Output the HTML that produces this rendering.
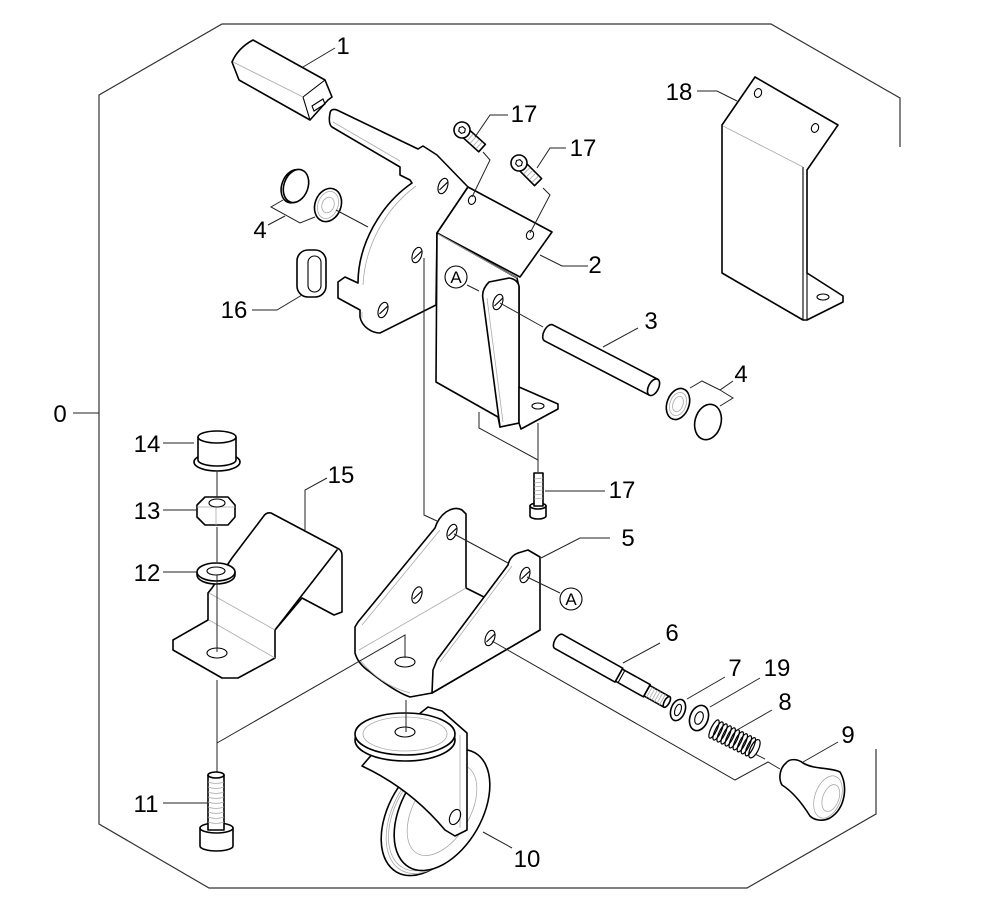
<!DOCTYPE html>
<html><head><meta charset="utf-8"><style>
html,body{margin:0;padding:0;background:#fff;}
svg{display:block}
.o{fill:#fff;stroke:#000;stroke-width:1.6;stroke-linejoin:round;stroke-linecap:round}
.n{fill:none;stroke:#000;stroke-width:1.6;stroke-linejoin:round;stroke-linecap:round}
.t{fill:none;stroke:#000;stroke-width:1.1}
.l{fill:none;stroke:#222;stroke-width:1}
.g{fill:none;stroke:#aaa;stroke-width:0.8}
text{font-family:"Liberation Sans",sans-serif;font-size:24px;fill:#000;text-anchor:middle}
.a{font-size:17px}
</style></head><body>
<svg width="998" height="907" viewBox="0 0 998 907" xmlns="http://www.w3.org/2000/svg">
<!-- border -->
<polyline points="900,147 900,98 771,24 222,24 99,95 99,824 209,888 747,888 876,814 876,749" fill="none" stroke="#333" stroke-width="1.2"/>
<line x1="73" y1="413" x2="99" y2="413" class="l"/>

<!-- Part 1 grip -->
<path class="o" d="M253,40 Q238,48 232,62 L239,80 L310,120 L328,100 L332,97 L325,80 Z"/>
<path class="t" d="M303,97 L325,80 M303,97 L310,120"/>
<line class="g" x1="233" y1="62" x2="303" y2="97"/>
<path class="t" d="M312,106 L323,99 L325,104 L314,111 Z"/>
<line class="l" x1="335" y1="48" x2="303" y2="67"/>

<!-- Part 2: lever + quarter plate -->
<path class="o" d="M330,113 Q331,108 337,110 L418,149 L423,146 L437,155 L468,187 L437,233 L436,305 L430,308 L380,333 C372,333 362,327 360,317 L360,310 L338,298 L338,282 L345,277 L358,283 C358,245 380,205 412,183 L410,180 L400,175 L400,167 L332,127 Q328,124 330,113 Z"/>
<path class="g" d="M333,122 L400,161 M416,186 C386,208 365,245 363,285 M362,312 L362,318"/>
<!-- top flange -->
<polygon class="o" points="468,187 552,232 520,277 437,233"/>
<!-- vertical plate -->
<polygon class="o" points="437,233 517,278 519,287 519,423 500,427 498,417 436,382"/>
<line class="g" x1="438" y1="234" x2="517" y2="278"/>
<!-- gusset -->
<path class="o" d="M500,427 L483,299 Q481,290 489,282 L509,278 Q517,279 519,286 L519,423 Z"/>
<line class="g" x1="487" y1="298" x2="503" y2="422"/>
<!-- bottom flange -->
<path class="o" d="M519,387 L558,404 L558,409 L521,429 L519,423 Z"/>
<ellipse class="t" cx="538" cy="406" rx="6" ry="3"/>
<!-- holes part 2 -->
<g class="t">
<g transform="translate(443,186) rotate(20)"><ellipse rx="4.5" ry="8"/><line x1="-2" y1="5" x2="3" y2="-5"/></g>
<g transform="translate(417,255) rotate(20)"><ellipse rx="4.5" ry="8"/><line x1="-2" y1="5" x2="3" y2="-5"/></g>
<g transform="translate(383,310) rotate(20)"><ellipse rx="4.5" ry="8"/><line x1="-2" y1="5" x2="3" y2="-5"/></g>
<g transform="translate(472,200) rotate(20)"><ellipse rx="3.5" ry="4.5"/></g>
<g transform="translate(530,235) rotate(20)"><ellipse rx="3.5" ry="4.5"/></g>
<g transform="translate(498,302) rotate(20)"><ellipse rx="4.5" ry="8"/><line x1="-2" y1="5" x2="3" y2="-5"/></g>
</g>
<path class="l" d="M588,266 L562,266 L540,255"/>

<!-- Part 4 upper -->
<g transform="translate(296,186) rotate(20)"><ellipse class="o" cx="-2" cy="1" rx="12" ry="17"/><ellipse class="o" rx="12" ry="17"/></g>
<g transform="translate(328,205) rotate(20)"><ellipse class="o" rx="13" ry="17"/><ellipse class="g" rx="6" ry="8"/><ellipse class="g" rx="10" ry="14"/></g>
<path class="l" d="M283,200 L271,207 L300,223 L315,217 M268,225 L285,216"/>
<line class="l" x1="336" y1="210" x2="368" y2="227"/>

<!-- Part 16 -->
<rect class="o" x="297" y="250" width="29" height="47" rx="11"/>
<rect class="t" x="308" y="256" width="13" height="36" rx="6.5"/>
<path class="l" d="M252,310 L277,310 L302,295"/>

<!-- Screws 17 top -->
<g transform="translate(462,130) rotate(42)"><rect class="o" x="2" y="-5" width="25" height="10"/><g class="g"><line x1="11" y1="-4.5" x2="11" y2="4.5"/><line x1="15" y1="-4.5" x2="15" y2="4.5"/><line x1="19" y1="-4.5" x2="19" y2="4.5"/><line x1="23" y1="-4.5" x2="23" y2="4.5"/></g><circle class="o" r="8"/><polygon class="t" points="3.5,0 1.75,3 -1.75,3 -3.5,0 -1.75,-3 1.75,-3"/></g>
<g transform="translate(519,163) rotate(45)"><rect class="o" x="2" y="-5" width="25" height="10"/><g class="g"><line x1="11" y1="-4.5" x2="11" y2="4.5"/><line x1="15" y1="-4.5" x2="15" y2="4.5"/><line x1="19" y1="-4.5" x2="19" y2="4.5"/><line x1="23" y1="-4.5" x2="23" y2="4.5"/></g><circle class="o" r="8"/><polygon class="t" points="3.5,0 1.75,3 -1.75,3 -3.5,0 -1.75,-3 1.75,-3"/></g>
<path class="l" d="M508,115 L490,115 L475,137 M483,152 L490,160 L472,197"/>
<path class="l" d="M566,148 L550,148 L537,168 M543,188 L550,195 L530,233"/>

<!-- Part 3 pin -->
<g transform="translate(547,332) rotate(27.4)"><path class="o" d="M2,-9 L120,-9 L120,9 L2,9 A5,9 0 0 1 2,-9 Z"/><ellipse class="o" cx="120" rx="5" ry="9"/></g>
<line class="l" x1="500" y1="303" x2="543" y2="327"/>
<line class="l" x1="638" y1="328" x2="603" y2="347"/>

<!-- Part 4 lower -->
<g transform="translate(678,404) rotate(20)"><ellipse class="o" rx="11" ry="16"/><ellipse class="g" rx="5" ry="8"/><ellipse class="g" rx="8" ry="12"/></g>
<g transform="translate(708,422) rotate(15)"><ellipse class="o" rx="13" ry="18"/></g>
<path class="l" d="M690,388 L702,381 L720,390 L733,381 M720,390 L733,398 L720,406"/>

<!-- A circles -->
<circle class="t" cx="456" cy="277" r="11"/><text class="a" x="456" y="283">A</text>
<line class="l" x1="467" y1="285" x2="479" y2="291"/>

<!-- Part 18 -->
<polygon class="o" points="722,273 722,125 755,77 838,125 807,170 807,273 843,296 843,302 807,320 803,320"/>
<line class="t" x1="803" y1="167" x2="803" y2="320"/>
<line class="g" x1="723" y1="126" x2="803" y2="167"/>
<line class="t" x1="807" y1="273" x2="807" y2="320"/>
<ellipse class="t" cx="823" cy="297" rx="6" ry="3"/>
<g transform="translate(758,93) rotate(20)" class="t"><ellipse rx="3.5" ry="4.5"/></g>
<g transform="translate(815,128) rotate(20)" class="t"><ellipse rx="3.5" ry="4.5"/></g>
<path class="l" d="M697,91 L717,91 L737,101"/>

<!-- vertical line from quarter plate -->
<path class="l" d="M424,258 L424,515 L437,521"/>

<!-- Screw 17 bottom -->
<path class="o" d="M530,506 L530,516 A8,3 0 0 0 546,516 L546,506"/>
<ellipse class="o" cx="538" cy="506" rx="8" ry="3"/>
<rect class="o" x="534" y="473" width="9" height="33"/>
<g class="g"><line x1="534" y1="479" x2="543" y2="478"/><line x1="534" y1="483" x2="543" y2="482"/><line x1="534" y1="487" x2="543" y2="486"/><line x1="534" y1="491" x2="543" y2="490"/><line x1="534" y1="495" x2="543" y2="494"/><line x1="534" y1="499" x2="543" y2="498"/></g>
<path class="l" d="M479,412 L479,428 L538,460 L538,423 M538,460 L538,472 M545,491 L605,491"/>

<!-- Part 5 -->
<path class="o" d="M355,653 L355,627 L358,622 L435,528 Q438,518 446,512 Q455,506 462,510 L466,514 L466,588 L490,600 L540,630 L432,693 L410,697 Q395,692 370,672 Q358,664 355,653 Z"/>
<path class="o" d="M432,693 L433,670 L437,660 L508,565 Q510,556 518,553 L528,550 L540,557 L540,630 Z"/>
<path class="g" d="M359,650 L466,588 M440,530 L362,625 M512,566 L440,662 M360,660 Q380,685 410,693"/>
<g class="t">
<g transform="translate(452,532) rotate(20)"><ellipse rx="4.5" ry="8"/><line x1="-2" y1="5" x2="3" y2="-5"/></g>
<g transform="translate(417,595) rotate(20)"><ellipse rx="4.5" ry="8.5"/><line x1="-2" y1="5" x2="3" y2="-5"/></g>
<g transform="translate(525,575) rotate(20)"><ellipse rx="4.5" ry="8"/><line x1="-2" y1="5" x2="3" y2="-5"/></g>
<g transform="translate(490,638) rotate(20)"><ellipse rx="4.5" ry="8"/><line x1="-2" y1="5" x2="3" y2="-5"/></g>
<ellipse cx="405" cy="662" rx="10" ry="5"/>
</g>
<path class="l" d="M610,538 L580,538 L541,558"/>
<line class="l" x1="454" y1="534" x2="508" y2="563"/>
<line class="l" x1="527" y1="577" x2="560" y2="593"/>
<circle class="t" cx="571" cy="599" r="11"/><text class="a" x="571" y="605">A</text>
<path class="l" d="M492,641 L735,780 L768,762 L780,769"/>

<!-- Part 15 -->
<path class="o" d="M173,640 L208,620 L208,593 L212,588 L232,558 L263,517 Q266,512 271,513 L337,548 Q342,550 342,555 L342,612 L334,615 L302,598 L275,630 L275,658 L238,678 L222,678 L173,650 Z"/>
<path class="n" d="M337,550 L275,630"/>
<path class="g" d="M209,593 L275,630 M209,620 L275,658"/>
<ellipse class="t" cx="217" cy="653" rx="10" ry="5"/>
<path class="l" d="M327,478 L305,490 L305,530"/>

<!-- Part 14 cap -->
<ellipse class="o" cx="217" cy="462" rx="23" ry="9"/>
<path class="o" d="M198,437 L198,460 A19,6 0 0 0 236,460 L236,437"/>
<ellipse class="o" cx="217" cy="437" rx="19" ry="6"/>
<!-- Part 13 nut -->
<polygon class="o" points="197,505 205,497 228,497 235,505 235,517 228,525 205,525 197,517"/>
<path class="g" d="M197,507 L235,507 M216,507 L216,525"/>
<ellipse class="t" cx="217" cy="503" rx="8" ry="4"/>
<!-- Part 12 washer -->
<path class="o" d="M197,572 L197,575 A19,9 0 0 0 235,575 L235,572"/>
<ellipse class="o" cx="216" cy="572" rx="19" ry="9"/>
<ellipse class="t" cx="216" cy="571" rx="9" ry="4"/>
<!-- vertical stack lines -->
<path class="l" d="M217,472 L217,497 M217,527 L217,562 M217,575 L217,652 M217,680 L217,773 M405,658 L405,635 L217,743"/>
<line class="l" x1="163" y1="443" x2="194" y2="443"/>
<line class="l" x1="163" y1="510" x2="197" y2="510"/>
<line class="l" x1="163" y1="572" x2="196" y2="572"/>

<!-- Part 11 screw -->
<path class="o" d="M200,828 L200,846 A16.5,5 0 0 0 233,846 L233,828"/>
<ellipse class="o" cx="216.5" cy="828" rx="16.5" ry="5"/>
<rect class="o" x="208" y="775" width="16" height="55"/>
<ellipse class="o" cx="216" cy="775" rx="8" ry="3"/>
<g class="g"><path d="M208,782 Q216,785 224,782 M208,787 Q216,790 224,787 M208,792 Q216,795 224,792 M208,797 Q216,800 224,797 M208,802 Q216,805 224,802 M208,807 Q216,810 224,807 M208,812 Q216,815 224,812 M208,817 Q216,820 224,817 M208,822 Q216,825 224,822"/></g>
<line class="l" x1="163" y1="803" x2="207" y2="803"/>

<!-- Part 10 caster -->
<g transform="translate(430,814) rotate(30)"><ellipse class="o" rx="41" ry="67"/></g>
<g class="g" transform="translate(434,813) rotate(30)"><ellipse rx="40" ry="66"/><ellipse rx="38" ry="63"/></g>
<g transform="translate(442,810) rotate(30)"><ellipse class="o" rx="40" ry="66"/><ellipse class="g" rx="28" ry="50"/></g>
<path class="o" d="M362,766 C392,780 420,800 445,830 L455,836 L467,830 L467,733 L442,711 L428,707 L380,745 Z"/>
<path class="g" d="M460,735 L460,828"/>
<g transform="translate(455,817) rotate(25)"><ellipse class="t" rx="5" ry="8"/></g>
<ellipse class="o" cx="405" cy="740" rx="50" ry="21"/>
<ellipse class="o" cx="405" cy="734" rx="50" ry="21"/>
<ellipse class="g" cx="405" cy="734" rx="42" ry="17"/>
<ellipse class="t" cx="405" cy="732" rx="10" ry="5"/>
<line class="l" x1="406" y1="700" x2="406" y2="732"/>
<line class="l" x1="512" y1="848" x2="483" y2="832"/>

<!-- Part 6 -->
<g transform="translate(556,640) rotate(29.2)">
<path class="o" d="M104,-6 L127,-6 L127,6 L104,6 Z"/>
<g class="g"><line x1="107" y1="-6" x2="107" y2="6"/><line x1="110" y1="-6" x2="110" y2="6"/><line x1="113" y1="-6" x2="113" y2="6"/><line x1="116" y1="-6" x2="116" y2="6"/><line x1="119" y1="-6" x2="119" y2="6"/><line x1="122" y1="-6" x2="122" y2="6"/></g>
<ellipse class="o" cx="127" rx="2.5" ry="6"/>
<path class="o" d="M72,-7 L104,-7 L104,7 L72,7 Z"/>
<path class="o" d="M3,-8 L72,-8 L72,8 L3,8 A4,8 0 0 1 3,-8 Z"/>
<line class="t" x1="75" y1="-7.5" x2="75" y2="7.5"/>
</g>
<line class="l" x1="660" y1="643" x2="623" y2="663"/>
<!-- Part 7 -->
<g transform="translate(678,710) rotate(20)"><ellipse class="o" rx="7" ry="11"/><ellipse class="t" rx="3" ry="6"/></g>
<line class="l" x1="725" y1="677" x2="687" y2="699"/>
<!-- Part 19 -->
<g transform="translate(699,718) rotate(20)"><ellipse class="o" rx="9" ry="13"/><ellipse class="t" rx="4" ry="6.5"/></g>
<line class="l" x1="760" y1="678" x2="710" y2="707"/>
<!-- Part 8 spring -->
<g transform="translate(714,729) rotate(26)" fill="none" stroke="#000" stroke-width="1.2">
<ellipse cx="0" rx="3" ry="10"/><ellipse cx="4.5" rx="3" ry="10"/><ellipse cx="9" rx="3" ry="10"/><ellipse cx="13.5" rx="3" ry="10"/><ellipse cx="18" rx="3" ry="10"/><ellipse cx="22.5" rx="3" ry="10"/><ellipse cx="27" rx="3" ry="10"/><ellipse cx="31.5" rx="3" ry="10"/><ellipse cx="36" rx="3" ry="10"/><ellipse cx="40.5" rx="3" ry="10"/><ellipse cx="45" rx="4" ry="10"/>
</g>
<line class="l" x1="772" y1="710" x2="737" y2="730"/>
<line class="l" x1="755" y1="754" x2="765" y2="759"/>
<!-- Part 9 knob -->
<path class="o" d="M786,763 C790,758 798,759 803,763 C815,770 830,767 840,772 C848,785 846,808 830,818 C822,822 814,820 810,816 C800,800 790,790 782,785 C778,778 780,768 786,763 Z"/>
<g transform="translate(828,797) rotate(20)"><ellipse class="g" rx="13" ry="22"/><ellipse class="g" cx="3" rx="8" ry="14"/></g>
<line class="l" x1="838" y1="742" x2="803" y2="762"/>

<!-- Labels -->
<text x="343" y="54">1</text>
<text x="524" y="122">17</text>
<text x="583" y="156">17</text>
<text x="679" y="100">18</text>
<text x="595" y="273">2</text>
<text x="260" y="238">4</text>
<text x="234" y="318">16</text>
<text x="651" y="329">3</text>
<text x="741" y="382">4</text>
<text x="60" y="422">0</text>
<text x="147" y="452">14</text>
<text x="341" y="483">15</text>
<text x="622" y="498">17</text>
<text x="147" y="519">13</text>
<text x="628" y="546">5</text>
<text x="147" y="581">12</text>
<text x="672" y="641">6</text>
<text x="735" y="676">7</text>
<text x="777" y="676">19</text>
<text x="785" y="710">8</text>
<text x="848" y="743">9</text>
<text x="146" y="812">11</text>
<text x="527" y="867">10</text>
</svg>
</body></html>
